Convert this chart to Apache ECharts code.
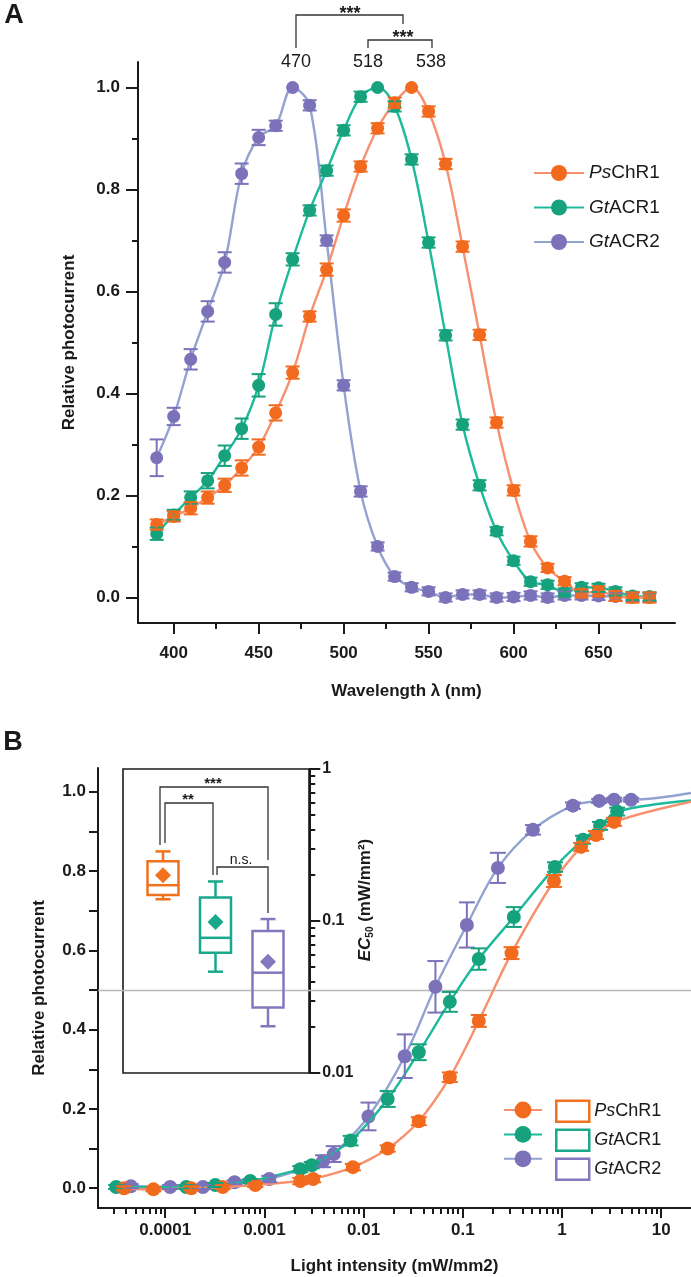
<!DOCTYPE html>
<html>
<head>
<meta charset="utf-8">
<title>Action spectra and light sensitivity</title>
<script src="https://cdn.jsdelivr.net/npm/echarts@6/dist/echarts.min.js"></script>
<style>
  html, body { margin: 0; padding: 0; background: #fff; }
  #chart { width: 691px; height: 1277px; }
</style>
</head>
<body>
<div id="chart"></div>
<script>
// ---------- panel A: action spectra (relative photocurrent vs wavelength) ----------
const wavelengths = [390, 400, 410, 420, 430, 440, 450, 460, 470, 480, 490, 500, 510, 520, 530,
  540, 550, 560, 570, 580, 590, 600, 610, 620, 630, 640, 650, 660, 670, 680];
const psChR1A = [0.143, 0.159, 0.175, 0.196, 0.220, 0.254, 0.295, 0.362, 0.441, 0.551, 0.643, 0.749, 0.845, 0.920, 0.970,
  1.000, 0.953, 0.850, 0.688, 0.515, 0.343, 0.210, 0.110, 0.058, 0.032, 0.008, 0.012, 0.003, 0.000, 0.000];
const gtACR1A = [0.125, 0.162, 0.196, 0.229, 0.278, 0.331, 0.416, 0.555, 0.663, 0.759, 0.837, 0.916, 0.982, 1.000, 0.963,
  0.859, 0.696, 0.514, 0.339, 0.220, 0.130, 0.072, 0.031, 0.025, 0.010, 0.020, 0.019, 0.012, 0.003, 0.002];
const gtACR2A = [0.274, 0.355, 0.467, 0.561, 0.657, 0.831, 0.902, 0.925, 1.000, 0.965, 0.700, 0.416, 0.208, 0.100, 0.041,
  0.020, 0.012, 0.000, 0.006, 0.006, 0.000, 0.001, 0.004, 0.000, 0.004, 0.004, 0.003, 0.002, 0.001, 0.000];
const psChR1AErr = [0.010, 0.010, 0.012, 0.012, 0.013, 0.015, 0.015, 0.015, 0.012, 0.010, 0.012, 0.012, 0.010, 0.010, 0.010,
  0.000, 0.010, 0.010, 0.010, 0.010, 0.010, 0.010, 0.010, 0.008, 0.008, 0.008, 0.010, 0.010, 0.010, 0.010];
const gtACR1AErr = [0.012, 0.010, 0.012, 0.015, 0.020, 0.020, 0.022, 0.022, 0.012, 0.010, 0.010, 0.010, 0.010, 0.000, 0.010,
  0.010, 0.010, 0.010, 0.010, 0.010, 0.008, 0.008, 0.008, 0.008, 0.008, 0.008, 0.008, 0.008, 0.008, 0.008];
const gtACR2AErr = [0.036, 0.017, 0.020, 0.020, 0.020, 0.020, 0.015, 0.010, 0.000, 0.010, 0.010, 0.010, 0.010, 0.008, 0.008,
  0.008, 0.008, 0.008, 0.008, 0.008, 0.008, 0.008, 0.008, 0.008, 0.008, 0.008, 0.008, 0.008, 0.008, 0.008];
const xTicksA = [400, 450, 500, 550, 600, 650];
const xMinorA = [425, 475, 525, 575, 625, 675];
const yTicksA = [0, 0.2, 0.4, 0.6, 0.8, 1.0];
const yMinorA = [0.1, 0.3, 0.5, 0.7, 0.9];
const peakLabels = ['470', '518', '538'];

// ---------- panel B: light titration (relative photocurrent vs intensity) ----------
const psChR1X = [3.85e-5, 7.6e-5, 1.83e-4, 3.8e-4, 8.1e-4, 2.3e-3, 3.1e-3, 7.8e-3, 0.0175, 0.036, 0.074, 0.145, 0.31, 0.83, 1.56, 2.2, 3.35];
const psChR1Y = [0.000, -0.003, 0.000, 0.003, 0.008, 0.018, 0.023, 0.053, 0.100, 0.169, 0.280, 0.422, 0.593, 0.775, 0.861, 0.891, 0.924];
const psChR1E = [0.005, 0.005, 0.005, 0.005, 0.005, 0.008, 0.008, 0.008, 0.008, 0.010, 0.012, 0.015, 0.015, 0.015, 0.010, 0.010, 0.010];
const gtACR1X = [3.2e-5, 1.63e-4, 3.2e-4, 7.2e-4, 2.3e-3, 3.0e-3, 7.4e-3, 0.0175, 0.036, 0.074, 0.145, 0.327, 0.85, 1.63, 2.42, 3.6];
const gtACR1Y = [0.003, 0.003, 0.008, 0.018, 0.048, 0.058, 0.120, 0.225, 0.343, 0.470, 0.578, 0.684, 0.810, 0.879, 0.914, 0.950];
const gtACR1E = [0.005, 0.005, 0.005, 0.005, 0.008, 0.008, 0.012, 0.020, 0.020, 0.025, 0.027, 0.025, 0.012, 0.010, 0.010, 0.010];
const gtACR2X = [4.5e-5, 1.12e-4, 2.4e-4, 5.0e-4, 1.12e-3, 3.9e-3, 5.0e-3, 0.0112, 0.026, 0.053, 0.11, 0.226, 0.51, 1.29, 2.37, 3.35, 4.98];
const gtACR2Y = [0.005, 0.003, 0.003, 0.015, 0.023, 0.068, 0.086, 0.181, 0.333, 0.508, 0.664, 0.808, 0.904, 0.965, 0.977, 0.980, 0.980];
const gtACR2E = [0.005, 0.005, 0.005, 0.005, 0.008, 0.015, 0.020, 0.035, 0.055, 0.065, 0.057, 0.038, 0.012, 0.008, 0.005, 0.005, 0.005];
// fitted curves read at the right edge of the axis
const curveEndX = 20;
const curveEndY = [0.975, 0.978, 0.997];
const xTicksB = [0.0001, 0.001, 0.01, 0.1, 1, 10];
const yTicksB = [0, 0.2, 0.4, 0.6, 0.8, 1.0];
const yMinorB = [0.1, 0.3, 0.5, 0.7, 0.9];
const halfLevel = 0.5;

// ---------- inset: EC50 box plot (log axis) ----------
// [min, Q1, median, Q3, max]
const ec50Box = [
  [0.139, 0.148, 0.172, 0.247, 0.287],
  [0.0464, 0.0618, 0.0775, 0.143, 0.182],
  [0.0203, 0.0270, 0.0457, 0.086, 0.103]
];
const ec50Mean = [0.200, 0.0985, 0.054];
const insetTicks = [0.01, 0.1, 1];

const names = ['PsChR1', 'GtACR1', 'GtACR2'];
const italicPart = { PsChR1: ['Ps', 'ChR1'], GtACR1: ['Gt', 'ACR1'], GtACR2: ['Gt', 'ACR2'] };
const markerColor = ['#F26A1E', '#17A27E', '#7B72BA'];
const lineColor = ['#F7906E', '#1DBA9C', '#93A3D1'];
const boxColor = ['#F2711C', '#19A88A', '#8378BE'];

const FONT = "'Liberation Sans', Arial, Helvetica, sans-serif";
const INK = '#1a1a1a';

// log minor ticks (2..9 per decade)
function logMinor(decades, lo, hi) {
  const out = [];
  decades.forEach(d => {
    for (let k = 2; k <= 9; k++) {
      const v = +(k * d).toPrecision(3);
      if (v > lo && v < hi) out.push(v);
    }
  });
  return out;
}
const xMinorB = logMinor([1e-5, 1e-4, 1e-3, 1e-2, 1e-1, 1, 10], 2.1e-5, curveEndX);
const insetMinor = logMinor([0.01, 0.1], 0.01, 1);

const fmtNum = v => String(+(+v).toPrecision(6));

function nameFormatter(name) {
  const p = italicPart[name.replace(' box', '')];
  return '{i|' + p[0] + '}{n|' + p[1] + '}';
}
function legendRich(size) {
  return {
    i: { fontStyle: 'italic', fontSize: size, fontFamily: FONT, color: INK },
    n: { fontSize: size, fontFamily: FONT, color: INK }
  };
}

const tickLabel = { fontSize: 17, fontWeight: 'bold', fontFamily: FONT, color: INK };

function mainAxis(type, gridIndex, position, min, max, ticks, tickLen, labelMargin, fmt, extra) {
  return Object.assign({
    type, gridIndex, position, min, max,
    axisLine: { show: true, onZero: false, lineStyle: { color: INK, width: 2 } },
    axisTick: { show: true, customValues: ticks, length: tickLen, lineStyle: { color: INK, width: 2 } },
    axisLabel: Object.assign({ show: true, customValues: ticks, margin: labelMargin, formatter: fmt }, tickLabel),
    splitLine: { show: false }
  }, extra || {});
}
function minorAxis(type, gridIndex, position, min, max, ticks, tickLen, extra) {
  return Object.assign({
    type, gridIndex, position, min, max,
    axisLine: { show: false, onZero: false },
    axisTick: { show: true, customValues: ticks, length: tickLen, lineStyle: { color: INK, width: 2 } },
    axisLabel: { show: false },
    splitLine: { show: false }
  }, extra || {});
}

function errSeries(xi, yi, pts, color, half) {
  return {
    type: 'custom', xAxisIndex: xi, yAxisIndex: yi, silent: true, z: 4,
    itemStyle: { color },
    encode: { x: 0, y: 1 },
    data: pts,
    renderItem: (params, api) => {
      const x = api.value(0), y = api.value(1), e = api.value(2);
      if (!e) return null;
      const hi = api.coord([x, y + e]), lo = api.coord([x, y - e]);
      const st = { stroke: color, lineWidth: 2 };
      return {
        type: 'group', children: [
          { type: 'line', shape: { x1: hi[0], y1: hi[1], x2: lo[0], y2: lo[1] }, style: st },
          { type: 'line', shape: { x1: hi[0] - half, y1: hi[1], x2: hi[0] + half, y2: hi[1] }, style: st },
          { type: 'line', shape: { x1: lo[0] - half, y1: lo[1], x2: lo[0] + half, y2: lo[1] }, style: st }
        ]
      };
    }
  };
}

// box with narrow whisker caps
function boxSeries(k) {
  const color = boxColor[k];
  return {
    name: names[k] + ' box', type: 'custom', xAxisIndex: 4, yAxisIndex: 4, silent: true, z: 3,
    itemStyle: { color: 'rgba(255,255,255,0)', borderColor: color, borderWidth: 2.5 },
    encode: { x: 0, y: [1, 2, 3, 4, 5] },
    data: [[k].concat(ec50Box[k])],
    renderItem: (params, api) => {
      const x = api.value(0);
      const p = v => api.coord([x, v]);
      const [cx, yMin] = p(api.value(1));
      const yQ1 = p(api.value(2))[1], yMed = p(api.value(3))[1], yQ3 = p(api.value(4))[1], yMax = p(api.value(5))[1];
      const hw = 15.5, cap = 7.5;
      const st = { stroke: color, lineWidth: 2.5, fill: null };
      const ln = (x1, y1, x2, y2) => ({ type: 'line', shape: { x1, y1, x2, y2 }, style: st });
      return {
        type: 'group', children: [
          { type: 'rect', shape: { x: cx - hw, y: yQ3, width: 2 * hw, height: yQ1 - yQ3 }, style: st },
          ln(cx - hw, yMed, cx + hw, yMed),
          ln(cx, yQ3, cx, yMax), ln(cx - cap, yMax, cx + cap, yMax),
          ln(cx, yQ1, cx, yMin), ln(cx - cap, yMin, cx + cap, yMin)
        ]
      };
    }
  };
}

const series = [];

// panel A, drawn purple first so orange sits on top
const seriesA = [psChR1A, gtACR1A, gtACR2A];
const errA = [psChR1AErr, gtACR1AErr, gtACR2AErr];
[2, 1, 0].forEach(k => {
  series.push({
    name: names[k], type: 'line', xAxisIndex: 0, yAxisIndex: 0, z: 2 + (2 - k) * 0.1,
    smooth: 0.35, symbol: 'circle', symbolSize: 13,
    itemStyle: { color: markerColor[k] },
    lineStyle: { color: lineColor[k], width: 2.4 },
    data: wavelengths.map((w, i) => [w, seriesA[k][i]])
  });
  series.push(errSeries(0, 0, wavelengths.map((w, i) => [w, seriesA[k][i], errA[k][i]]), markerColor[k], 7));
});

// panel B
const xsB = [psChR1X, gtACR1X, gtACR2X];
const ysB = [psChR1Y, gtACR1Y, gtACR2Y];
const esB = [psChR1E, gtACR1E, gtACR2E];
[2, 1, 0].forEach(k => {
  const s = {
    name: names[k], type: 'line', xAxisIndex: 2, yAxisIndex: 2, z: 2 + (2 - k) * 0.1,
    smooth: 0.35, symbol: 'circle', symbolSize: 14,
    itemStyle: { color: markerColor[k] },
    lineStyle: { color: lineColor[k], width: 2.4 },
    data: xsB[k].map((x, i) => [x, ysB[k][i]]).concat([{ value: [curveEndX, curveEndY[k]], symbol: 'none' }])
  };
  if (k === 2) {
    s.markLine = {
      silent: true, symbol: 'none', label: { show: false }, z: 1,
      lineStyle: { color: '#b8b8b8', width: 1.3, type: 'solid' },
      data: [{ yAxis: halfLevel }]
    };
  }
  series.push(s);
  series.push(errSeries(2, 2, xsB[k].map((x, i) => [x, ysB[k][i], esB[k][i]]), markerColor[k], 8));
});

// inset boxes and means
[0, 1, 2].forEach(k => series.push(boxSeries(k)));
series.push({
  type: 'scatter', xAxisIndex: 4, yAxisIndex: 4, symbol: 'diamond', symbolSize: 16, z: 5,
  data: ec50Mean.map((m, k) => ({ value: [k, m], itemStyle: { color: boxColor[k], opacity: 1 } }))
});

// annotations
const br = { stroke: '#333', lineWidth: 1.3, fill: null };
function txt(x, y, text, size, weight) {
  return {
    type: 'text', x, y, z: 10,
    style: { text, fill: INK, fontSize: size, fontWeight: weight || 'normal', fontFamily: FONT, align: 'center', verticalAlign: 'middle' }
  };
}
const graphic = [
  txt(14, 16, 'A', 27, 'bold'),
  txt(13, 743, 'B', 27, 'bold'),
  { type: 'polyline', shape: { points: [[296, 48], [296, 15], [403, 15], [403, 24]] }, style: br },
  { type: 'polyline', shape: { points: [[368, 48], [368, 40], [432, 40], [432, 48]] }, style: br },
  txt(350, 14, '***', 18, 'bold'),
  txt(403, 38, '***', 18, 'bold'),
  txt(296, 62, peakLabels[0], 18),
  txt(368, 62, peakLabels[1], 18),
  txt(431, 62, peakLabels[2], 18),
  { type: 'rect', shape: { x: 123, y: 769, width: 186, height: 304 }, style: { stroke: INK, lineWidth: 1.6, fill: null } },
  { type: 'polyline', shape: { points: [[160, 845], [160, 787], [268, 787], [268, 860]] }, style: br },
  { type: 'polyline', shape: { points: [[165, 843], [165, 803], [213, 803], [213, 875]] }, style: br },
  { type: 'polyline', shape: { points: [[217, 875], [217, 867], [268, 867], [268, 913]] }, style: br },
  txt(213, 784, '***', 15, 'bold'),
  txt(188, 800, '**', 15, 'bold'),
  txt(241, 860, 'n.s.', 14)
];

const axisName = { fontSize: 17, fontWeight: 'bold', fontFamily: FONT, color: INK };
const fixed1 = v => (+v).toFixed(1);

const option = {
  animation: false,
  backgroundColor: '#fff',
  textStyle: { fontFamily: FONT },
  grid: [
    { left: 138, top: 62, width: 537, height: 561 },
    { left: 98, top: 768, width: 593, height: 440 },
    { left: 136.75, top: 769, width: 157.5, height: 304 }
  ],
  legend: [
    {
      data: names, left: 533, top: 163, orient: 'vertical', padding: 0,
      itemWidth: 50, itemHeight: 20, itemGap: 14.5, selectedMode: false,
      textStyle: { fontSize: 19, lineHeight: 20, rich: legendRich(19) },
      formatter: nameFormatter
    },
    {
      data: names, left: 503, top: 1099.5, orient: 'vertical', padding: 0,
      itemWidth: 38, itemHeight: 21, itemGap: 5.5, selectedMode: false,
      textStyle: { fontSize: 1 }, formatter: () => ''
    },
    {
      data: names.map((n, k) => ({
        name: n + ' box', icon: 'rect',
        itemStyle: { color: 'rgba(255,255,255,0)', borderColor: boxColor[k], borderWidth: 2.5 }
      })),
      left: 555, top: 1099.5, orient: 'vertical', padding: 0,
      itemWidth: 33, itemHeight: 21, itemGap: 5.5, selectedMode: false,
      textStyle: { fontSize: 18, lineHeight: 21, rich: legendRich(18) },
      formatter: nameFormatter
    }
  ],
  xAxis: [
    mainAxis('value', 0, 'bottom', 379, 695, xTicksA, 11, 22, fmtNum, {
      name: 'Wavelength λ (nm)', nameLocation: 'middle', nameGap: 60, nameTextStyle: axisName
    }),
    minorAxis('value', 0, 'bottom', 379, 695, xMinorA, 6),
    mainAxis('log', 1, 'bottom', 2.1e-5, curveEndX, xTicksB, 10, 14, fmtNum, {
      logBase: 10,
      name: 'Light intensity (mW/mm2)', nameLocation: 'middle', nameGap: 50, nameTextStyle: axisName
    }),
    minorAxis('log', 1, 'bottom', 2.1e-5, curveEndX, xMinorB, 6, { logBase: 10 }),
    { type: 'category', gridIndex: 2, data: names, show: false, boundaryGap: true, position: 'bottom' }
  ],
  yAxis: [
    mainAxis('value', 0, 'left', -0.05, 1.05, yTicksA, 12, 18, fixed1, {
      name: 'Relative photocurrent', nameLocation: 'middle', nameGap: 60, nameTextStyle: axisName
    }),
    minorAxis('value', 0, 'left', -0.05, 1.05, yMinorA, 6),
    mainAxis('value', 1, 'left', -0.05, 1.06, yTicksB, 9, 12, fixed1, {
      name: 'Relative photocurrent', nameLocation: 'middle', nameGap: 50, nameTextStyle: axisName
    }),
    minorAxis('value', 1, 'left', -0.05, 1.06, yMinorB, 9),
    mainAxis('log', 2, 'right', 0.01, 1, insetTicks, 11, 13, fmtNum, {
      logBase: 10, offset: 15,
      name: '{it|EC}{sub|50}{n| (mW/mm²)}', nameLocation: 'middle', nameRotate: 90, nameGap: 42,
      nameTextStyle: {
        padding: [0, 0, 0, 42],
        rich: {
          it: { fontStyle: 'italic', fontWeight: 'bold', fontSize: 17, fontFamily: FONT, color: INK },
          sub: { fontWeight: 'bold', fontSize: 10, fontFamily: FONT, color: INK, verticalAlign: 'bottom', padding: [8, 0, 0, 0] },
          n: { fontWeight: 'bold', fontSize: 17, fontFamily: FONT, color: INK }
        }
      }
    }),
    minorAxis('log', 2, 'right', 0.01, 1, insetMinor, 6, { logBase: 10, offset: 15 })
  ],
  series,
  graphic
};
option.yAxis[4].axisLabel.fontSize = 16;

const chart = echarts.init(document.getElementById('chart'), null, { renderer: 'canvas' });
chart.setOption(option);
</script>
</body>
</html>
